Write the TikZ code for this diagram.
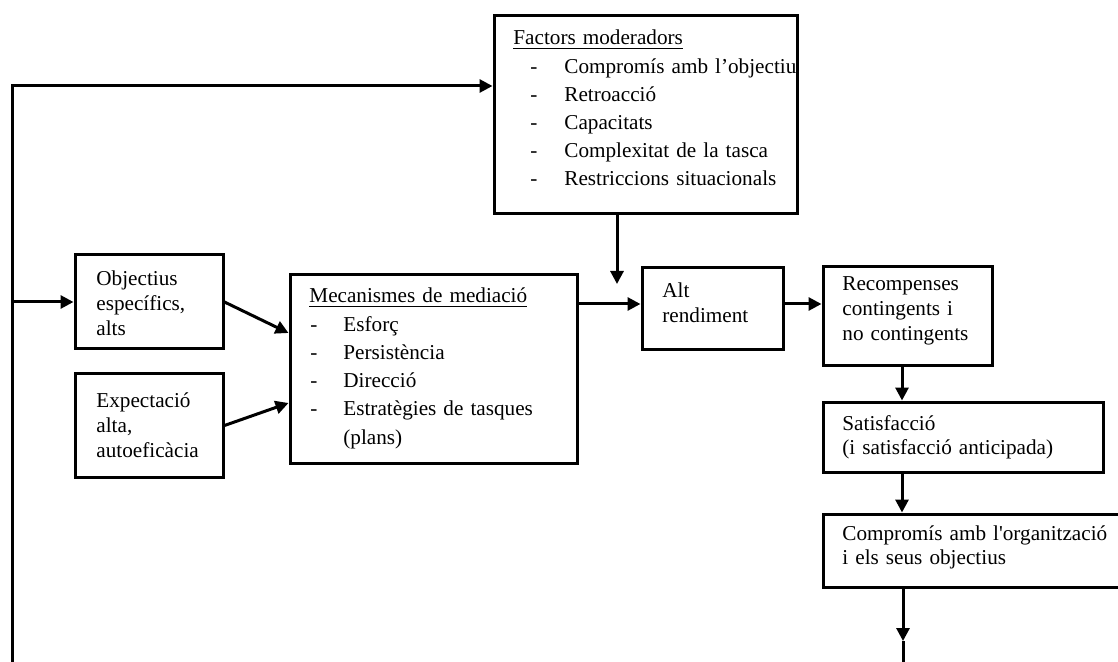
\documentclass[tikz,border=0pt]{standalone}
\usepackage{fontspec}
\setmainfont{Liberation Serif}[Ligatures=TeXOff]
\usetikzlibrary{arrows.meta}
\newcommand{\itm}[3]{\hspace*{#1}\makebox[#2][l]{-}#3}
\tikzset{
  box/.style={draw=black, line width=1.5pt, inner sep=0pt, rectangle},
  txt/.style={anchor=base west, inner sep=0pt, align=left, text width=160pt,
    font=\fontsize{10.6}{12.3}\selectfont},
  lst/.style={anchor=base west, inner sep=0pt, align=left, text width=160pt,
    font=\fontsize{10.6}{14.1}\selectfont},
  arr/.style={line width=1.5pt, -{Triangle[length=6.5pt,width=6.5pt]}},
  lin/.style={line width=1.5pt}
}
\begin{document}
\begin{tikzpicture}[x=0.5pt,y=-0.5pt]
\useasboundingbox (0,0) rectangle (1118,662);
\begin{scope}
\clip (0,0) rectangle (1118,662);
% boxes
\node[box, minimum width=151.5pt, minimum height=99pt] (fac) at (645.5,115) {};
\node[box, minimum width=74pt, minimum height=47pt] (obj) at (149,302) {};
\node[box, minimum width=74pt, minimum height=51.5pt] (exp) at (149,425.5) {};
\node[box, minimum width=143.5pt, minimum height=94pt] (mec) at (433.5,369) {};
\node[box, minimum width=70.5pt, minimum height=41pt] (alt) at (712.5,309) {};
\node[box, minimum width=84.5pt, minimum height=49.5pt] (rec) at (907.5,316.5) {};
\node[box, minimum width=140pt, minimum height=35pt] (sat) at (963,437) {};
\node[box, minimum width=151pt, minimum height=36.5pt] (com) at (974,550.5) {};
% texts
\node[lst] (facT) at (513,45) {\underline{Factors moderadors}\\
\itm{8.5pt}{17pt}{Compromís amb l’objectiu}\\
\itm{8.5pt}{17pt}{Retroacció}\\
\itm{8.5pt}{17pt}{Capacitats}\\
\itm{8.5pt}{17pt}{Complexitat de la tasca}\\
\itm{8.5pt}{17pt}{Restriccions situacionals}};
\node[lst] (mecT) at (309,303) {\underline{Mecanismes de mediació}\\
\itm{0.5pt}{16.5pt}{Esforç}\\
\itm{0.5pt}{16.5pt}{Persistència}\\
\itm{0.5pt}{16.5pt}{Direcció}\\
\itm{0.5pt}{16.5pt}{Estratègies de tasques}\\
\hspace*{17pt}(plans)};
\node[txt] (objT) at (96,286) {Objectius\\específics,\\alts};
\node[txt] (expT) at (96,408) {Expectació\\alta,\\autoeficàcia};
\node[txt] (altT) at (662,298) {Alt\\rendiment};
\node[txt] (recT) at (842,291) {Recompenses\\contingents i\\no contingents};
\node[txt] (satT) at (842,430) {Satisfacció\\(i satisfacció anticipada)};
\node[txt] (comT) at (842,540) {Compromís amb l'organització\\i els seus objectius};
% connectors
\coordinate (lb) at (12,662);
\coordinate (lt) at (12,86);
\draw[arr] (lb) -- (lt) -- (lt -| fac.west);
\draw[arr] (lb |- obj.west) -- (obj.west);
\draw[arr] (obj.east) -- (mec.west |- 0,333);
\draw[arr] (exp.east) -- (mec.west |- 0,403);
\draw[arr] (mec.east |- 0,304) -- (alt.west |- 0,304);
\coordinate (fa) at (617,284);
\draw[arr] (fac.south -| fa) -- (fa);
\draw[arr] (alt.east |- 0,304) -- (rec.west |- 0,304);
\draw[arr] (rec.south -| 902,0) -- (sat.north -| 902,0);
\draw[arr] (sat.south -| 902,0) -- (com.north -| 902,0);
\coordinate (cb) at (903,641);
\coordinate (ce) at (903,662);
\draw[arr] (com.south -| cb) -- (cb);
\draw[lin] (cb) -- (ce);
\end{scope}
\end{tikzpicture}
\end{document}
